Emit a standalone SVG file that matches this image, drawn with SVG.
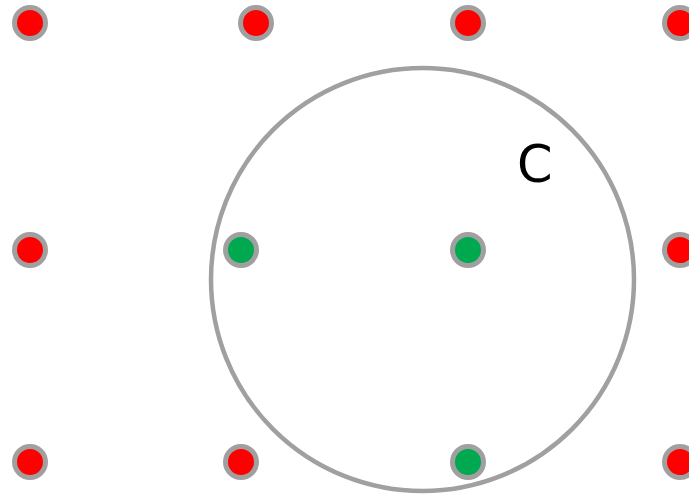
<svg xmlns="http://www.w3.org/2000/svg" width="689" height="496" viewBox="0 0 689 496">
<style>
.red{fill:#FF0000;stroke:#A0A0A0;stroke-width:5}
.green{fill:#00A84F;stroke:#A0A0A0;stroke-width:5}
.big{fill:none;stroke:#A0A0A0;stroke-width:4.5}
.lbl{font-family:"DejaVu Sans",sans-serif;font-size:51px;fill:#000}
</style>
<rect width="689" height="496" fill="#fff"/>
<g id="circleC">
<circle class="big" cx="422.5" cy="279.5" r="211.5"/>
<text class="lbl" x="517" y="182">C</text>
</g>
<g id="dots">
<circle id="p1" class="red" cx="30" cy="23" r="15.5"/>
<circle id="p2" class="red" cx="256" cy="23" r="15.5"/>
<circle id="p3" class="red" cx="468" cy="23" r="15.5"/>
<circle id="p4" class="red" cx="680" cy="23" r="15.5"/>
<circle id="p5" class="red" cx="30" cy="250" r="15.5"/>
<circle id="p6" class="green" cx="241" cy="250" r="15.5"/>
<circle id="p7" class="green" cx="468" cy="250" r="15.5"/>
<circle id="p8" class="red" cx="680" cy="250" r="15.5"/>
<circle id="p9" class="red" cx="30" cy="462" r="15.5"/>
<circle id="p10" class="red" cx="241" cy="462" r="15.5"/>
<circle id="p11" class="green" cx="468" cy="462" r="15.5"/>
<circle id="p12" class="red" cx="680" cy="462" r="15.5"/>
</g>
<g id="connectors"/>
</svg>
